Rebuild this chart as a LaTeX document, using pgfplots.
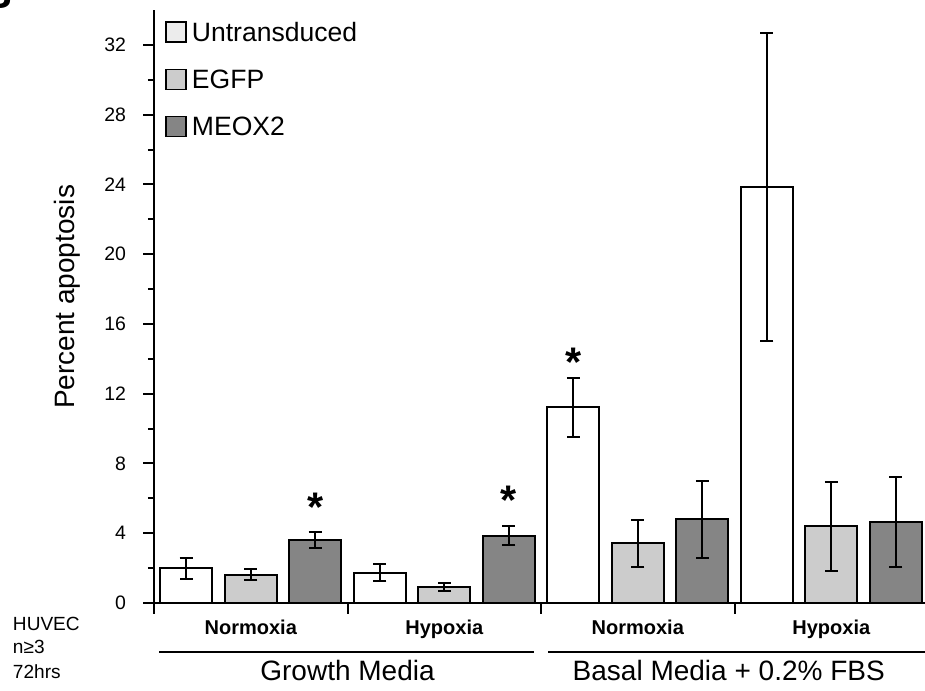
\documentclass[border=0pt]{standalone}
\usepackage{pgfplots}
\pgfplotsset{compat=1.18}
\usepackage{fontspec}
\setmainfont{Liberation Sans}
\definecolor{egfp}{RGB}{204,204,204}
\definecolor{meox}{RGB}{133,133,133}
\definecolor{legU}{RGB}{236,236,236}
\newcommand{\tickfont}{\fontsize{14.6pt}{17pt}\selectfont}
\newcommand{\legfont}{\fontsize{19.9pt}{23pt}\selectfont}
\newcommand{\labfont}{\fontsize{21pt}{25pt}\selectfont}
\newcommand{\subfont}{\fontsize{15pt}{18pt}\selectfont\bfseries}
\newcommand{\smallfont}{\fontsize{14.3pt}{17pt}\selectfont}
\newcommand{\starfont}{\fontsize{31pt}{35pt}\selectfont\bfseries}

\pgfplotstableread{
x y e
0.1667 1.99 0.60
1.1667 1.74 0.48
2.1667 11.22 1.68
3.1667 23.87 8.83
}\untrans
\pgfplotstableread{
x y e
0.5 1.62 0.32
1.5 0.90 0.22
2.5 3.43 1.35
3.5 4.39 2.57
}\egfpdata
\pgfplotstableread{
x y e
0.8333 3.61 0.47
1.8333 3.87 0.53
2.8333 4.79 2.20
3.8333 4.64 2.57
}\meoxdata

\pgfplotsset{
  mybar/.style={ybar, bar width=0.269, bar shift=0pt, draw=black, line width=1.5pt,
    error bars/y dir=both, error bars/y explicit,
    error bars/error bar style={line width=1.5pt, black},
    error bars/error mark options={rotate=90, mark size=4.9pt, line width=1.5pt, black}},
  legbox/.style={legend image code/.code={\draw[line width=1.2pt, draw=black, ##1] (0pt,-7pt) rectangle (15pt,8pt);}}
}

\begin{document}
\begin{tikzpicture}
\useasboundingbox (-115.5pt,-65.25pt) rectangle (578.25pt,452.25pt);
\begin{axis}[
  at={(0pt,0pt)}, anchor=south west,
  width=578.25pt, height=444.75pt, scale only axis,
  xmin=0, xmax=3.984, ymin=0, ymax=34,
  axis x line*=bottom, axis y line*=left,
  axis line style={-, line width=1.5pt},
  clip=false,
  tick align=outside,
  major tick length=8pt, minor tick length=4.5pt,
  tick style={line width=1.5pt, black},
  ytick={0,4,...,32}, minor ytick={2,6,...,30},
  xtick={0,1,2,3}, xticklabels={},
  yticklabel style={font=\tickfont, xshift=-9.5pt},
  /pgf/number format/assume math mode=true,
  legend style={at={(axis cs:0.057,33.45)}, anchor=north west, draw=none, fill=none,
    inner sep=0pt, outer sep=0pt, row sep=15.8pt, font=\legfont,
    /tikz/every odd column/.append style={column sep=2pt}},
  legend cell align=left,
]
\addplot[mybar, fill=white, forget plot] table[x=x, y=y, y error=e] {\untrans};
\addplot[mybar, fill=egfp, forget plot] table[x=x, y=y, y error=e] {\egfpdata};
\addplot[mybar, fill=meox, forget plot] table[x=x, y=y, y error=e] {\meoxdata};

\addlegendimage{legbox, fill=legU}
\addlegendentry{Untransduced}
\addlegendimage{legbox, fill=egfp}
\addlegendentry{EGFP}
\addlegendimage{legbox, fill=meox}
\addlegendentry{MEOX2}

\node[font=\starfont, inner sep=0pt] at (axis cs:0.8333,5.46) {*};
\node[font=\starfont, inner sep=0pt] at (axis cs:1.8333,5.90) {*};
\node[font=\starfont, inner sep=0pt] at (axis cs:2.1667,13.80) {*};

\node[rotate=90, anchor=base, font=\labfont, inner sep=0pt] at (axis cs:-0.412,17.55) {Percent apoptosis};

\node[anchor=base, font=\subfont, inner sep=0pt] at (axis cs:0.5,-1.78) {Normoxia};
\node[anchor=base, font=\subfont, inner sep=0pt] at (axis cs:1.5,-1.78) {Hypoxia};
\node[anchor=base, font=\subfont, inner sep=0pt] at (axis cs:2.5,-1.78) {Normoxia};
\node[anchor=base, font=\subfont, inner sep=0pt] at (axis cs:3.5,-1.78) {Hypoxia};

\draw[line width=1.5pt] (axis cs:0.026,-2.81) -- (axis cs:1.964,-2.81);
\draw[line width=1.5pt] (axis cs:2.036,-2.81) -- (axis cs:3.984,-2.81);

\node[anchor=base, font=\labfont, inner sep=0pt] at (axis cs:1.0,-4.47) {Growth Media};
\node[anchor=base, font=\labfont, inner sep=0pt] at (axis cs:2.97,-4.47) {Basal Media + 0.2\% FBS};

\node[anchor=base west, font=\smallfont, inner sep=0pt] at (axis cs:-0.730,-1.55) {HUVEC};
\node[anchor=base west, font=\smallfont, inner sep=0pt] at (axis cs:-0.730,-2.92) {n≥3};
\node[anchor=base west, font=\smallfont, inner sep=0pt] at (axis cs:-0.730,-4.32) {72hrs};

\node[anchor=base east, font=\fontsize{30pt}{36pt}\selectfont\bfseries, inner sep=0pt] at (axis cs:-0.729,34.06) {B};
\end{axis}
\end{tikzpicture}
\end{document}
